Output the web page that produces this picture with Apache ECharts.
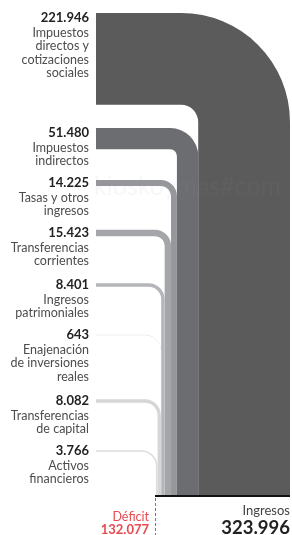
<!DOCTYPE html>
<html>
<head>
<meta charset="utf-8">
<script src="https://cdn.jsdelivr.net/npm/echarts@6/dist/echarts.min.js"></script>
<style>
  html, body { margin: 0; padding: 0; background: #fff; }
  #main { width: 292px; height: 535px; }
</style>
</head>
<body>
<div id="main"></div>
<script>
  // datos (miles de euros)
  const categories = [
    'Impuestos\ndirectos y\ncotizaciones\nsociales',
    'Impuestos\nindirectos',
    'Tasas y otros\ningresos',
    'Transferencias\ncorrientes',
    'Ingresos\npatrimoniales',
    'Enajenación\nde inversiones\nreales',
    'Transferencias\nde capital',
    'Activos\nfinancieros'
  ];
  const values = [221946, 51480, 14225, 15423, 8401, 643, 8082, 3766];
  const totalIngresos = 323996;
  const deficit = 132077;

  const bandColors = ['#5b5b5b', '#6c6d71', '#96979b', '#a4a6a9', '#b4b6b9', '#dcdcdc', '#d6d6d6', '#dcdcdc'];

  // layout (px)
  const valueY = [18, 133, 183, 233, 285, 335, 401, 451];
  const outerR = [109, 28, 16, 16, 16, 16, 16, 16];
  const startX = 96;
  const labelX = 89;

  function fmt(v) {
    return String(v).replace(/\B(?=(\d{3})+(?!\d))/g, '.');
  }

  // borde derecho acumulado de cada banda
  const rightEdge = [];
  let acc = totalIngresos;
  values.forEach(v => { rightEdge.push(acc); acc -= v; });

  const chart = echarts.init(document.getElementById('main'), null, { renderer: 'canvas' });

  function renderBand(params, api) {
    const i = params.dataIndex;
    const v = api.value(0);
    const r = api.value(1);
    const xr = api.coord([r, 0])[0];
    const xl = api.coord([r - v, 0])[0];
    const w = xr - xl;
    const B = params.coordSys.y + params.coordSys.height;
    const T = valueY[i] - Math.min(5, w / 2);
    const Ro = outerR[i];
    const Ri = Math.max(Ro - w, 0);
    const d = 'M' + startX + ',' + T +
      ' L' + (xr - Ro) + ',' + T +
      ' A' + Ro + ',' + Ro + ' 0 0 1 ' + xr + ',' + (T + Ro) +
      ' L' + xr + ',' + B +
      ' L' + xl + ',' + B +
      ' L' + xl + ',' + (T + Ro) +
      ' A' + Ri + ',' + Ri + ' 0 0 0 ' + (xr - Ro) + ',' + (T + w) +
      ' L' + startX + ',' + (T + w) + ' Z';
    return {
      type: 'group',
      children: [
        { type: 'path', shape: { pathData: d }, style: { fill: bandColors[i] } },
        {
          type: 'text',
          style: {
            x: labelX, y: valueY[i], text: fmt(v), align: 'right', verticalAlign: 'middle',
            fill: '#222', font: 'bold 13px Lato'
          }
        },
        {
          type: 'text',
          style: {
            x: labelX, y: valueY[i] + 8, text: categories[i], align: 'right', verticalAlign: 'top',
            fill: '#4d4d4d', font: '12.5px Lato', lineHeight: 13.5
          }
        }
      ]
    };
  }

  const option = {
    animation: false,
    grid: { left: 156, right: 2, top: 0, bottom: 40 },
    xAxis: { type: 'value', min: 0, max: totalIngresos, show: false },
    yAxis: { type: 'value', min: 0, max: 1, show: false },
    graphic: [
      {
        type: 'text', z: 10, silent: true,
        style: { x: 94, y: 187, text: 'kioskoymas#com', verticalAlign: 'middle',
          fill: 'rgba(150,150,150,0.08)', font: '25px Lato' }
      },
      { type: 'line', shape: { x1: 155, y1: 496, x2: 290, y2: 496 }, style: { stroke: '#111', lineWidth: 2 } },
      { type: 'line', shape: { x1: 155.5, y1: 498, x2: 155.5, y2: 535 },
        style: { stroke: '#e84a4f', lineWidth: 1, lineDash: [3, 2] } },
      { type: 'text', style: { x: 290, y: 511, text: 'Ingresos', align: 'right', verticalAlign: 'middle',
          fill: '#444', font: '13px Lato' } },
      { type: 'text', style: { x: 290, y: 528, text: fmt(totalIngresos), align: 'right', verticalAlign: 'middle',
          fill: '#222', font: 'bold 18.5px Lato' } },
      { type: 'text', style: { x: 149, y: 517, text: 'Déficit', align: 'right', verticalAlign: 'middle',
          fill: '#e84a4f', font: '12.5px Lato' } },
      { type: 'text', style: { x: 149, y: 530, text: fmt(deficit), align: 'right', verticalAlign: 'middle',
          fill: '#e84a4f', font: 'bold 13px Lato' } }
    ],
    series: [{
      type: 'custom',
      coordinateSystem: 'cartesian2d',
      renderItem: renderBand,
      data: values.map((v, i) => [v, rightEdge[i]])
    }]
  };

  chart.setOption(option);
</script>
</body>
</html>
